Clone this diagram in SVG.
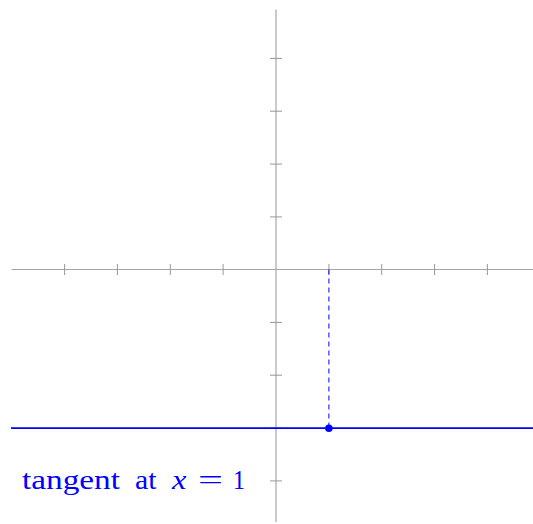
<svg xmlns="http://www.w3.org/2000/svg" width="533" height="524" viewBox="0 0 533 524">
<style>
.axis{stroke:#a6a6a6;stroke-width:1.2;fill:none}
.tick{stroke:#999;stroke-width:1;fill:none}
.tan{stroke:#0000ff;stroke-width:1.8;fill:none}
.dash{stroke:#0000ff;stroke-width:1;stroke-dasharray:5,4;fill:none}
.lbl{font-family:"Liberation Serif",serif;font-size:27px;fill:#0000ff}
</style>
<g id="axes">
<line class="axis" x1="11.5" y1="269.5" x2="533" y2="269.5"/>
<line class="axis" x1="276" y1="9.5" x2="276" y2="522"/>
<g id="xticks">
<line class="tick" x1="64.6" y1="264" x2="64.6" y2="275"/>
<line class="tick" x1="117.4" y1="264" x2="117.4" y2="275"/>
<line class="tick" x1="170.3" y1="264" x2="170.3" y2="275"/>
<line class="tick" x1="223.1" y1="264" x2="223.1" y2="275"/>
<line class="tick" x1="328.9" y1="264" x2="328.9" y2="275"/>
<line class="tick" x1="381.7" y1="264" x2="381.7" y2="275"/>
<line class="tick" x1="434.6" y1="264" x2="434.6" y2="275"/>
<line class="tick" x1="487.4" y1="264" x2="487.4" y2="275"/>
</g>
<g id="yticks">
<line class="tick" x1="270" y1="58.4" x2="282" y2="58.4"/>
<line class="tick" x1="270" y1="111.2" x2="282" y2="111.2"/>
<line class="tick" x1="270" y1="164.1" x2="282" y2="164.1"/>
<line class="tick" x1="270" y1="216.9" x2="282" y2="216.9"/>
<line class="tick" x1="270" y1="322.4" x2="282" y2="322.4"/>
<line class="tick" x1="270" y1="375.2" x2="282" y2="375.2"/>
<line class="tick" x1="270" y1="428.1" x2="282" y2="428.1"/>
<line class="tick" x1="270" y1="480.9" x2="282" y2="480.9"/>
</g>
</g>
<g id="connectors">
<line class="dash" x1="328.9" y1="269.5" x2="328.9" y2="428.2"/>
<line class="tan" x1="11" y1="428.2" x2="533" y2="428.2"/>
</g>
<g id="point">
<circle cx="328.9" cy="428.2" r="3.8" fill="#0000ff"/>
</g>
<g id="label">
<text class="lbl" y="488.5"><tspan x="22" textLength="98" lengthAdjust="spacingAndGlyphs">tangent</tspan> <tspan x="135" textLength="21.5" lengthAdjust="spacingAndGlyphs">at</tspan> <tspan x="172" font-style="italic" textLength="14.5" lengthAdjust="spacingAndGlyphs">x</tspan> <tspan x="198" textLength="25" lengthAdjust="spacingAndGlyphs">=</tspan> <tspan x="233" textLength="12" lengthAdjust="spacingAndGlyphs">1</tspan></text>
</g>
</svg>
